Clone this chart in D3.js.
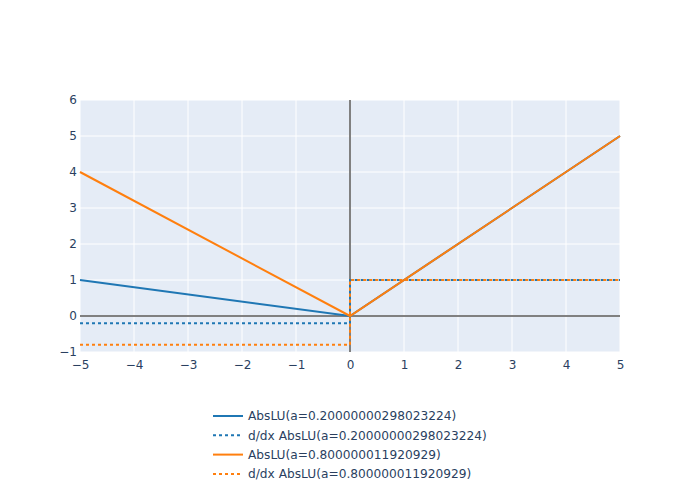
<!DOCTYPE html>
<html>
<head>
<meta charset="utf-8">
<script src="https://cdn.jsdelivr.net/npm/d3@7"></script>
<style>
  body { margin: 0; background: #fff; }
  text { font-family: "DejaVu Sans", sans-serif; fill: #2a3f5f; }
</style>
</head>
<body>
<svg id="chart" width="700" height="500"></svg>
<script>
// ── Data ─────────────────────────────────────────────────────────
const xTicks = [-5, -4, -3, -2, -1, 0, 1, 2, 3, 4, 5];
const yTicks = [-1, 0, 1, 2, 3, 4, 5, 6];

const absX = [-5, 0, 5];
const absA02 = [1, 0, 5];
const absA08 = [4, 0, 5];

const derivX = [-5, 0, 0, 5];
const derivA02 = [-0.2, -0.2, 1, 1];
const derivA08 = [-0.8, -0.8, 1, 1];

const seriesNames = [
  'AbsLU(a=0.20000000298023224)',
  'd/dx AbsLU(a=0.20000000298023224)',
  'AbsLU(a=0.800000011920929)',
  'd/dx AbsLU(a=0.800000011920929)'
];
const seriesColors = ['#1f77b4', '#1f77b4', '#ff7f0e', '#ff7f0e'];

const series = [
  { xs: absX, ys: absA02, dash: null },
  { xs: derivX, ys: derivA02, dash: '3,3' },
  { xs: absX, ys: absA08, dash: null },
  { xs: derivX, ys: derivA08, dash: '3,3' },
];

// ── Layout ───────────────────────────────────────────────────────
const plot = { left: 80, right: 620, top: 100, bottom: 352 };
const svg = d3.select('#chart');

const x = d3.scaleLinear().domain([-5, 5]).range([plot.left, plot.right]);
const y = d3.scaleLinear().domain([-1, 6]).range([plot.bottom, plot.top]);

svg.append('rect')
  .attr('x', plot.left).attr('y', plot.top)
  .attr('width', plot.right - plot.left)
  .attr('height', plot.bottom - plot.top)
  .attr('fill', '#e5ecf6');

const fmt = d => (d < 0 ? '\u2212' + Math.abs(d) : String(d));

// Grid
const grid = svg.append('g');
grid.selectAll('.gx').data(xTicks.filter(d => d !== 0)).join('line')
  .attr('x1', d => x(d)).attr('x2', d => x(d))
  .attr('y1', plot.top).attr('y2', plot.bottom)
  .attr('stroke', '#fff').attr('stroke-width', 1);
grid.selectAll('.gy').data(yTicks.filter(d => d !== 0)).join('line')
  .attr('y1', d => y(d)).attr('y2', d => y(d))
  .attr('x1', plot.left).attr('x2', plot.right)
  .attr('stroke', '#fff').attr('stroke-width', 1);

// Zero lines
svg.append('line')
  .attr('x1', x(0)).attr('x2', x(0))
  .attr('y1', plot.top).attr('y2', plot.bottom)
  .attr('stroke', '#808080').attr('stroke-width', 2);
svg.append('line')
  .attr('x1', plot.left).attr('x2', plot.right)
  .attr('y1', y(0)).attr('y2', y(0))
  .attr('stroke', '#808080').attr('stroke-width', 2);

// Axes labels
const xAxis = d3.axisBottom(x).tickValues(xTicks).tickFormat(fmt).tickSize(0).tickPadding(8);
const gx = svg.append('g').attr('transform', `translate(0,${plot.bottom})`).call(xAxis);
gx.select('.domain').remove();
gx.selectAll('text').attr('font-size', 12).attr('fill', '#2a3f5f')
  .attr('font-family', '"DejaVu Sans", sans-serif');

const yAxis = d3.axisLeft(y).tickValues(yTicks).tickFormat(fmt).tickSize(0).tickPadding(3);
const gy = svg.append('g').attr('transform', `translate(${plot.left},0)`).call(yAxis);
gy.select('.domain').remove();
gy.selectAll('text').attr('font-size', 12).attr('fill', '#2a3f5f')
  .attr('font-family', '"DejaVu Sans", sans-serif');

// Traces
const line = d3.line();
const traces = svg.append('g');
series.forEach((s, i) => {
  traces.append('path')
    .attr('d', line(s.xs.map((v, k) => [x(v), y(s.ys[k])])))
    .attr('fill', 'none')
    .attr('stroke', seriesColors[i])
    .attr('stroke-width', 2)
    .attr('stroke-dasharray', s.dash);
});

// Legend
const legend = svg.append('g').attr('transform', 'translate(213,416)');
seriesNames.forEach((name, i) => {
  const row = legend.append('g').attr('transform', `translate(0,${i * 19.3})`);
  row.append('line')
    .attr('x1', 0).attr('x2', 30).attr('y1', 0).attr('y2', 0)
    .attr('stroke', seriesColors[i]).attr('stroke-width', 2)
    .attr('stroke-dasharray', series[i].dash);
  row.append('text')
    .attr('x', 35).attr('y', 0).attr('dy', '0.35em')
    .attr('font-size', 12.2)
    .text(name);
});
</script>
</body>
</html>
